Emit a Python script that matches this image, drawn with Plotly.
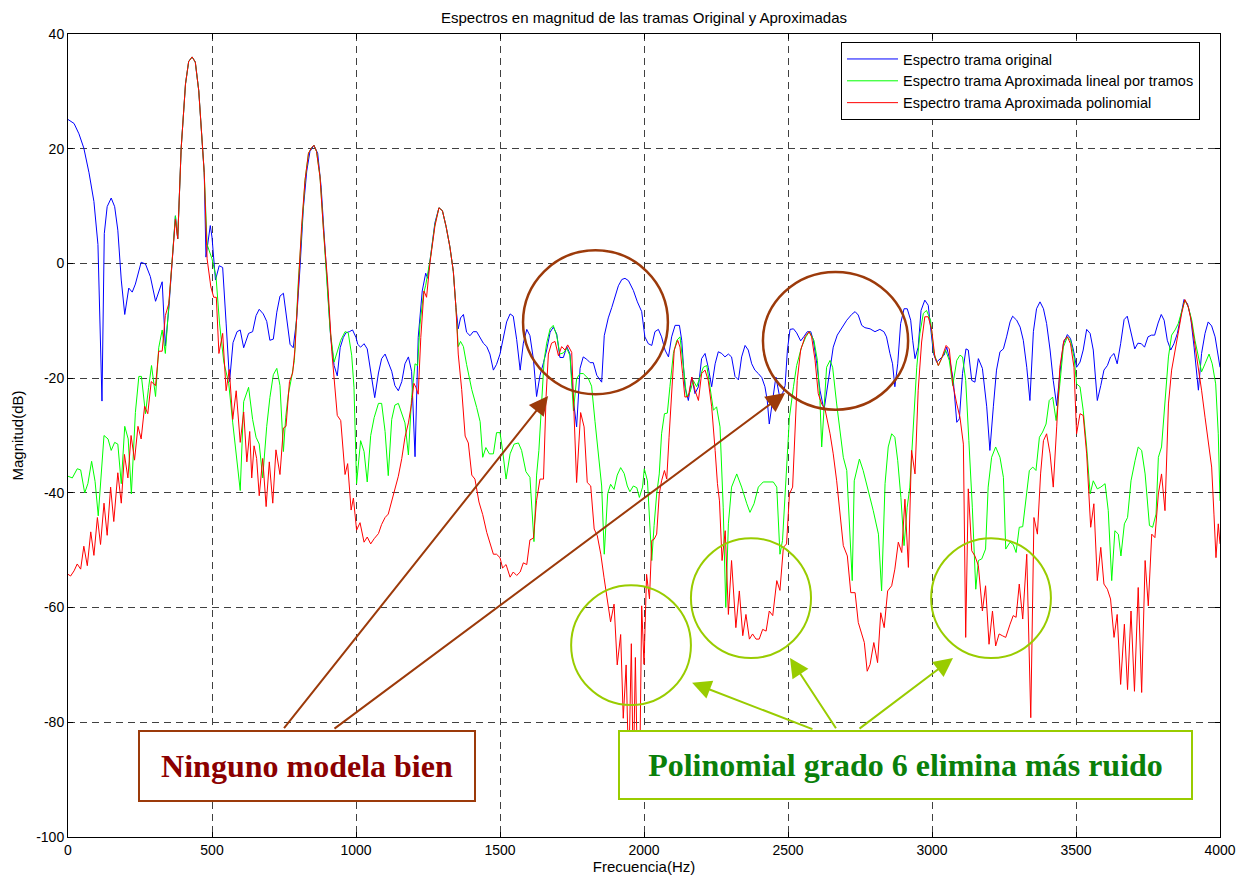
import plotly.graph_objects as go

# ---------------- data ----------------
freq_orig = [0, 21, 38, 55, 73, 90, 104, 118, 126, 136, 150, 162, 173, 185, 197, 211, 223, 234, 254, 269, 286, 304, 327, 338, 350, 361, 373, 381, 393, 408, 419, 431, 442, 454, 465, 473, 479, 494, 500, 512, 525, 537, 549, 561, 573, 587, 598, 610, 627, 641, 653, 664, 678, 690, 701, 713, 725, 736, 748, 759, 771, 782, 794, 806, 817, 829, 840, 854, 867, 879, 889, 901, 912, 924, 935, 945, 956, 965, 977, 988, 1000, 1006, 1016, 1028, 1039, 1051, 1065, 1078, 1089, 1101, 1112, 1124, 1135, 1147, 1159, 1170, 1182, 1193, 1205, 1216, 1230, 1242, 1249, 1260, 1274, 1288, 1300, 1313, 1326, 1338, 1347, 1355, 1363, 1373, 1384, 1396, 1407, 1419, 1431, 1442, 1454, 1465, 1477, 1488, 1500, 1512, 1523, 1535, 1546, 1558, 1570, 1581, 1593, 1604, 1616, 1627, 1639, 1651, 1662, 1674, 1685, 1697, 1708, 1720, 1732, 1743, 1755, 1766, 1778, 1789, 1801, 1813, 1824, 1836, 1853, 1862, 1876, 1888, 1899, 1911, 1923, 1934, 1946, 1963, 1977, 1992, 2003, 2015, 2027, 2038, 2050, 2061, 2073, 2085, 2096, 2108, 2123, 2131, 2142, 2154, 2166, 2177, 2189, 2200, 2212, 2223, 2235, 2247, 2258, 2270, 2281, 2293, 2304, 2316, 2328, 2339, 2351, 2362, 2374, 2385, 2397, 2409, 2420, 2428, 2435, 2447, 2458, 2470, 2481, 2490, 2498, 2507, 2519, 2530, 2544, 2556, 2567, 2579, 2588, 2600, 2611, 2625, 2637, 2646, 2657, 2671, 2686, 2704, 2721, 2733, 2744, 2756, 2767, 2785, 2802, 2819, 2833, 2842, 2854, 2863, 2871, 2881, 2891, 2903, 2914, 2926, 2933, 2941, 2952, 2962, 2975, 2987, 2995, 3005, 3016, 3028, 3042, 3051, 3062, 3074, 3086, 3095, 3106, 3118, 3126, 3138, 3149, 3161, 3175, 3190, 3201, 3213, 3224, 3236, 3248, 3259, 3271, 3280, 3294, 3306, 3317, 3329, 3340, 3352, 3363, 3375, 3387, 3398, 3410, 3421, 3433, 3444, 3456, 3470, 3481, 3491, 3502, 3514, 3525, 3537, 3549, 3560, 3574, 3586, 3597, 3609, 3620, 3632, 3643, 3655, 3667, 3678, 3690, 3704, 3715, 3727, 3738, 3750, 3762, 3773, 3785, 3796, 3806, 3817, 3829, 3840, 3852, 3863, 3875, 3887, 3898, 3910, 3925, 3936, 3948, 3959, 3971, 3983, 3994, 4000]
mag_orig = [25.1, 24.4, 22.6, 20.1, 15.8, 10.8, 3.3, -24, 5.2, 9.9, 11.4, 9.9, 5.8, -2.9, -8.9, -4.3, -5.0, -3.6, 0.2, -0.1, -2.3, -6.6, -3.2, -14.4, -7.9, 0.8, 8.3, 4.3, 20.1, 31.3, 35.2, 36.0, 35.1, 30.1, 22.6, 15.8, 1.1, 6.6, 4.6, -2.9, -0.4, -0.7, -10.4, -20.6, -13.8, -11.9, -11.6, -14.7, -12.2, -11.9, -9.1, -8, -8.8, -10.1, -13.4, -13.2, -8.5, -5.7, -5.2, -9.1, -14.1, -14.7, -9.7, -0.4, 9.5, 16.1, 19.5, 20.6, 19.2, 13.3, 4.6, -4.1, -12.9, -17.8, -19.6, -14.7, -12.9, -12.1, -11.9, -11.6, -12.9, -14.1, -14.6, -14, -14.9, -19.1, -23.4, -19.1, -16.6, -15.8, -17.2, -18.8, -21.3, -22.2, -20.6, -17.5, -16.3, -18.8, -33.7, -12.9, -4.8, -1.7, -2.6, 2.1, 7.1, 9.7, 9.2, 6.4, 2.9, -1.4, -7.7, -11.4, -9.5, -8.9, -12, -12.6, -11.9, -11.9, -13, -13.9, -14.5, -15.8, -18.6, -17.6, -15.8, -12.6, -10.2, -8.8, -9.2, -13.3, -18.6, -13.9, -11.5, -12.6, -16.7, -23.2, -19.5, -17.3, -15.1, -12, -11.1, -12.3, -16.4, -16.4, -14.5, -15.8, -23.9, -28.5, -18.3, -16.3, -16.7, -17.3, -17.3, -19.5, -20.7, -12.6, -9.5, -7.7, -5.8, -3.9, -2.8, -2.6, -3, -4.7, -6.7, -8.4, -12.8, -14, -14.3, -11.9, -11.5, -12.8, -15.1, -16.3, -12.8, -10.8, -10.8, -13.4, -21.5, -23.9, -19.8, -22.7, -21.5, -16.6, -15.7, -18.1, -21.5, -17.5, -15.4, -15.7, -16.3, -15.8, -16.3, -19.7, -20.3, -16.3, -14.3, -15.1, -17.5, -18.6, -19.2, -19.9, -21.5, -23.9, -28, -23.9, -19.8, -23, -22.7, -21.3, -15.1, -11.5, -11.4, -12.1, -13.5, -12.7, -11.9, -11.9, -13.4, -17.5, -22.1, -25.6, -21.5, -18.1, -14.6, -12.5, -11.2, -9.9, -8.9, -8.4, -9, -10.8, -11.2, -11.4, -11.9, -11.5, -11.9, -12.8, -15.7, -17.5, -21.5, -17.5, -10.5, -7.9, -7.9, -9.9, -13.4, -16.6, -14.6, -8.2, -6.4, -7.3, -11.1, -15.7, -17.2, -16.6, -16, -14.6, -16.9, -20.4, -27.7, -27.1, -19.2, -14.9, -15.1, -20.4, -20.7, -16.6, -18.3, -25, -32.6, -25, -18.6, -15.4, -14.9, -12.8, -10.2, -9.2, -9.9, -11.1, -13.4, -18.1, -23.9, -11.9, -7.9, -6.7, -7.9, -10.5, -15.1, -20.4, -24.8, -19.2, -14, -12.4, -13.1, -15.1, -18.1, -17.2, -15.1, -11.5, -12.2, -15.1, -23.9, -21.3, -18.6, -17.8, -16.3, -15.7, -17.5, -14, -9.8, -9.2, -11.6, -14.9, -13.9, -14, -14.6, -12.8, -12.5, -12.5, -10.4, -8.9, -9.9, -13.4, -15.1, -14, -12.2, -9.3, -6.3, -7, -9.3, -14.6, -22.1, -15.7, -12.2, -10.2, -10.9, -12.8, -16, -18.1]

freq_lin = [0, 15, 32, 44, 58, 69, 82, 94, 105, 125, 139, 150, 162, 173, 185, 197, 209, 220, 234, 246, 255, 269, 280, 290, 304, 315, 327, 338, 350, 361, 373, 381, 393, 408, 419, 431, 442, 454, 465, 473, 483, 500, 514, 526, 541, 558, 572, 598, 610, 627, 641, 653, 664, 676, 690, 701, 713, 725, 736, 748, 756, 765, 777, 786, 800, 811, 823, 835, 846, 854, 863, 875, 887, 898, 910, 924, 935, 947, 962, 973, 985, 993, 1002, 1016, 1028, 1039, 1051, 1063, 1078, 1089, 1101, 1112, 1124, 1135, 1147, 1159, 1170, 1182, 1193, 1205, 1214, 1222, 1234, 1242, 1257, 1274, 1288, 1300, 1313, 1326, 1338, 1347, 1355, 1363, 1373, 1384, 1402, 1419, 1431, 1440, 1451, 1463, 1477, 1488, 1500, 1509, 1521, 1535, 1549, 1564, 1575, 1590, 1604, 1618, 1627, 1635, 1645, 1653, 1662, 1674, 1685, 1697, 1708, 1720, 1732, 1743, 1755, 1766, 1778, 1789, 1807, 1818, 1830, 1841, 1853, 1862, 1874, 1884, 1896, 1907, 1919, 1931, 1942, 1951, 1963, 1975, 1984, 1995, 2001, 2012, 2019, 2027, 2035, 2044, 2053, 2061, 2071, 2081, 2090, 2102, 2114, 2125, 2137, 2148, 2160, 2171, 2183, 2194, 2206, 2218, 2229, 2241, 2252, 2264, 2275, 2284, 2293, 2304, 2322, 2339, 2357, 2368, 2382, 2397, 2414, 2432, 2449, 2461, 2472, 2481, 2493, 2505, 2519, 2530, 2547, 2562, 2574, 2590, 2602, 2611, 2617, 2625, 2634, 2646, 2655, 2669, 2680, 2692, 2704, 2715, 2723, 2730, 2748, 2761, 2779, 2796, 2814, 2825, 2837, 2848, 2860, 2871, 2881, 2892, 2903, 2914, 2923, 2935, 2947, 2958, 2970, 2981, 2995, 3007, 3022, 3033, 3047, 3060, 3072, 3086, 3097, 3106, 3117, 3128, 3140, 3152, 3161, 3173, 3186, 3195, 3207, 3221, 3236, 3248, 3256, 3271, 3282, 3292, 3303, 3315, 3326, 3338, 3350, 3361, 3373, 3384, 3396, 3407, 3419, 3431, 3444, 3456, 3470, 3481, 3493, 3502, 3514, 3525, 3537, 3549, 3560, 3574, 3586, 3601, 3612, 3624, 3635, 3647, 3656, 3668, 3679, 3691, 3705, 3716, 3728, 3740, 3755, 3766, 3778, 3786, 3797, 3809, 3821, 3832, 3844, 3855, 3867, 3878, 3890, 3902, 3913, 3925, 3936, 3948, 3962, 3973, 3985, 3994, 4000]
mag_lin = [-37.1, -37.4, -35.8, -36, -40, -38.4, -34.5, -38, -44, -30, -30.6, -32.6, -31.2, -31.5, -38.4, -28.4, -30.6, -40.2, -26, -19.7, -19.7, -26.2, -21.6, -17.8, -23.2, -14.7, -11.6, -15.7, -7.3, 0.8, 8.3, 4.3, 20.1, 31.3, 35.2, 36.0, 35.1, 30.1, 22.6, 15.8, 3.3, 0.8, -2.3, -10.4, -17.2, -20.9, -27.8, -39.6, -24.1, -21.6, -27.2, -30.3, -31.5, -37.4, -28.4, -23.4, -19.4, -18.3, -21.3, -32.8, -26.8, -22.8, -19.7, -16.9, -2.9, 6.4, 14.5, 19.2, 20.2, 20.6, 19.5, 15.1, 5.8, -2.3, -11.6, -17.2, -15.3, -13.4, -11.9, -12.1, -16, -21.6, -38.4, -30.9, -32.8, -38.1, -30, -26.9, -24.4, -24.4, -29.3, -37, -27.2, -24.7, -24.4, -26.2, -27.8, -33.4, -23.4, -17.5, -17.8, -10.7, -5.4, -3.8, 0.5, 6.8, 9.7, 9.2, 6.4, 2.9, -1.4, -7.7, -14.5, -13.6, -14.5, -17.6, -22, -25.1, -27.6, -33.8, -32.1, -33.2, -33.2, -29.5, -29.5, -32.6, -37.6, -33.2, -31.5, -31.3, -32.6, -36.3, -37.3, -48.5, -36.9, -32.6, -23.2, -17, -13.9, -11.4, -10.8, -12.6, -15.8, -15.6, -14.8, -16.1, -25.7, -20.1, -19.2, -19.2, -20.1, -21.4, -27.6, -32.6, -38.8, -50.7, -40.1, -38.5, -39.4, -36.9, -35.6, -36.6, -38.8, -39.8, -38.8, -39.1, -40.8, -39, -35.8, -37.9, -44.3, -51.8, -45.7, -40.2, -36.7, -29.7, -26.2, -26.1, -21.5, -15.7, -13.4, -12.8, -18.1, -23.3, -22.4, -20.4, -21.5, -19.8, -18.1, -17.8, -21.5, -25.6, -25, -28.5, -42.5, -60, -45.4, -39, -36.7, -39, -41.9, -43.4, -41.9, -39, -38.1, -38.1, -38.1, -39, -50.7, -48.3, -37.9, -26.8, -21.5, -17.8, -14.6, -12.8, -11.9, -13.4, -16.9, -23.9, -32, -26.2, -18.1, -16.9, -18.1, -24.5, -28.5, -33.8, -36.1, -46.6, -55.3, -37.9, -34.1, -36.1, -39.6, -43.1, -47.2, -57.1, -38.4, -32, -29.7, -30.3, -34.4, -40.8, -49.2, -42.5, -39, -28, -18.1, -12.2, -8.7, -8.2, -9.9, -15.7, -17.8, -16.6, -15.1, -16.9, -21.3, -16.9, -16, -16.3, -20.4, -30.9, -42.5, -56.8, -51.8, -51.5, -49.8, -39, -33.8, -32, -33.8, -37.3, -49.8, -48.6, -49, -50.4, -46, -45.9, -41.4, -36.1, -35.5, -36.1, -30.3, -29.4, -28, -23.9, -23.3, -27.4, -21, -14.6, -12.8, -13.4, -16.3, -21, -21.5, -25.6, -32, -40.2, -37.9, -39.3, -39, -38.4, -43.1, -55.3, -46.6, -47.2, -51, -45.4, -44.3, -37.9, -34.4, -32, -32.6, -36.7, -45.7, -46, -43.7, -33.8, -32, -24.5, -16.3, -12.5, -11.6, -10.5, -8.2, -6.4, -7.6, -9.9, -13.4, -16.3, -18.9, -17.5, -15.8, -17.5, -21, -29.7, -41.4]

freq_poly = [0, 9, 21, 32, 44, 55, 67, 79, 90, 102, 113, 125, 136, 148, 159, 173, 185, 196, 208, 219, 231, 243, 254, 266, 277, 289, 304, 315, 327, 338, 350, 361, 373, 381, 393, 408, 419, 431, 442, 454, 465, 473, 483, 496, 506, 515, 524, 537, 549, 560, 572, 584, 598, 610, 621, 631, 638, 646, 655, 664, 676, 688, 699, 711, 722, 736, 748, 757, 769, 780, 788, 800, 811, 823, 835, 846, 854, 863, 875, 887, 901, 916, 935, 947, 962, 971, 983, 991, 1002, 1014, 1028, 1039, 1051, 1063, 1078, 1089, 1101, 1112, 1124, 1135, 1147, 1159, 1170, 1182, 1193, 1201, 1208, 1216, 1225, 1236, 1245, 1257, 1274, 1288, 1300, 1313, 1326, 1338, 1347, 1355, 1367, 1379, 1390, 1402, 1413, 1427, 1440, 1454, 1465, 1477, 1488, 1500, 1509, 1521, 1535, 1546, 1558, 1570, 1581, 1593, 1604, 1616, 1627, 1639, 1651, 1660, 1668, 1679, 1691, 1703, 1714, 1726, 1735, 1749, 1766, 1780, 1792, 1803, 1815, 1827, 1838, 1850, 1861, 1873, 1884, 1896, 1907, 1919, 1928, 1938, 1947, 1956, 1963, 1970, 1977, 1986, 1992, 2000, 2009, 2019, 2027, 2035, 2044, 2053, 2061, 2071, 2079, 2087, 2096, 2105, 2117, 2125, 2134, 2142, 2154, 2166, 2177, 2189, 2200, 2212, 2223, 2235, 2247, 2255, 2262, 2271, 2282, 2293, 2304, 2319, 2331, 2343, 2354, 2366, 2377, 2389, 2400, 2412, 2424, 2435, 2447, 2461, 2472, 2484, 2495, 2505, 2516, 2524, 2532, 2544, 2559, 2573, 2582, 2594, 2605, 2617, 2628, 2646, 2657, 2669, 2680, 2692, 2706, 2718, 2733, 2744, 2756, 2765, 2775, 2785, 2798, 2811, 2822, 2834, 2846, 2860, 2871, 2883, 2895, 2906, 2918, 2929, 2941, 2952, 2964, 2975, 2987, 2999, 3010, 3022, 3033, 3049, 3060, 3072, 3086, 3097, 3109, 3117, 3126, 3138, 3149, 3161, 3175, 3186, 3198, 3210, 3221, 3233, 3244, 3256, 3271, 3282, 3292, 3303, 3315, 3329, 3343, 3354, 3366, 3377, 3387, 3398, 3410, 3421, 3433, 3444, 3458, 3470, 3481, 3493, 3502, 3514, 3525, 3537, 3551, 3562, 3574, 3586, 3597, 3609, 3620, 3632, 3643, 3655, 3668, 3679, 3691, 3703, 3716, 3728, 3740, 3751, 3763, 3774, 3786, 3797, 3809, 3821, 3832, 3844, 3855, 3867, 3878, 3890, 3902, 3913, 3925, 3936, 3948, 3959, 3971, 3979, 3986, 3994, 4000]
mag_poly = [-54.2, -54.5, -53.6, -52.4, -53.3, -49.3, -52.7, -46.8, -50.9, -44.3, -49, -41.8, -47.4, -39, -45, -36.5, -41.8, -33.3, -37.4, -30, -34.3, -28.4, -30.6, -24.9, -26.2, -20.6, -21.3, -15.3, -15.3, -9.1, -7.0, 0.8, 7.7, 4.3, 20.1, 31.3, 35.2, 36.0, 35.1, 30.1, 22.6, 15.8, 0.8, -4.1, -5.9, -5.9, -15.7, -12.2, -22.2, -18.5, -27.2, -22.2, -31.2, -25.9, -34.6, -29.3, -37.4, -31.8, -34, -40.5, -34, -42.4, -34.6, -41.8, -32.5, -36.8, -28.7, -28.4, -20.6, -19.1, -15, -2.9, 6.4, 14.5, 19.2, 20.2, 20.6, 19.5, 15.1, 5.8, -2.9, -15.3, -26.5, -27.4, -36.8, -34.9, -43, -40.9, -46.5, -45.2, -48.6, -47.7, -48.9, -48, -47.1, -45.5, -44.3, -43.7, -41.5, -39.6, -37.1, -34, -30.3, -27.8, -24.4, -20.9, -21.6, -22.8, -12.9, -4.8, -5.9, 0.2, 6.5, 9.7, 9.2, 6.4, 2.9, -1.4, -7.7, -15.8, -22, -30.1, -31.3, -36.9, -37.6, -41.6, -43.8, -46.9, -48.8, -50.7, -50.7, -51.3, -53.1, -52.5, -54.7, -53.8, -54.4, -53.8, -52.2, -52.5, -48.2, -47.9, -41.3, -37.6, -37.6, -23.2, -15.8, -13.9, -13.6, -16.1, -14.5, -15.1, -14.2, -15.5, -38.2, -26, -28.5, -38.2, -38.8, -46.3, -47.5, -50.7, -54.7, -58.8, -62.5, -59.4, -70, -64.7, -79.3, -70, -89, -66.3, -90, -68.7, -88, -85, -59.7, -69.9, -54.2, -58.5, -48.3, -48.1, -47.2, -40.2, -37.9, -36.1, -37.6, -30.3, -22.1, -15.1, -13.4, -14.6, -19.2, -23.3, -23.2, -19.8, -22.1, -23.9, -19.2, -18.6, -20.4, -25, -32.6, -38.4, -41.4, -51.8, -46.6, -61.2, -51.8, -63.5, -57.1, -64.9, -61.2, -65.5, -64.6, -65.5, -65.5, -63.8, -64.1, -60.6, -61.4, -55.3, -57, -49.5, -48.9, -40.2, -39, -30.9, -20.4, -15.1, -12.8, -11.9, -12.8, -16.9, -22.7, -24.5, -25.3, -29.7, -33.2, -37.9, -43.7, -49.2, -51, -57.4, -57.4, -62.6, -64.6, -66.1, -71.1, -69.9, -66.1, -69.6, -60.9, -63.5, -57.1, -56.2, -53.3, -48.6, -50.4, -41.1, -53, -32.6, -36.7, -22.1, -13.7, -9.3, -9.3, -11.6, -16.3, -17.8, -16.6, -14.3, -14.9, -21, -24.5, -26.8, -31.5, -65.2, -39.3, -50.1, -51, -52.7, -60.6, -56.2, -66.4, -60.6, -66.7, -64.6, -64.9, -65.2, -62.9, -61.4, -61.7, -55.9, -62, -50.7, -79.2, -44.3, -47.2, -36.7, -30.9, -29.7, -33.2, -39, -28.5, -18.1, -13.4, -12.8, -14, -18.1, -29.7, -26.2, -26.5, -33.2, -46, -41.9, -55.3, -49.5, -55.9, -56.8, -58.5, -65.2, -61.2, -73.4, -62.9, -74.3, -60.6, -74.6, -56.5, -74.8, -51.8, -59.7, -47.2, -47.8, -40.2, -36.7, -43.1, -24.5, -18.6, -15.1, -11.6, -8.7, -6.3, -7.6, -10.5, -14, -18.1, -22.1, -26.8, -30.9, -35.5, -43.7, -51.3, -45.4, -48.9]

series_names = ["Espectro trama original",
                "Espectro trama Aproximada lineal por tramos",
                "Espectro trama Aproximada polinomial"]
x_ticks = [0, 500, 1000, 1500, 2000, 2500, 3000, 3500, 4000]
y_ticks = [-100, -80, -60, -40, -20, 0, 20, 40]

# ---------------- figure ----------------
fig = go.Figure()
fig.add_trace(go.Scatter(x=freq_orig, y=mag_orig, mode="lines", name=series_names[0],
                         line=dict(color="#0000FF", width=1)))
fig.add_trace(go.Scatter(x=freq_lin, y=mag_lin, mode="lines", name=series_names[1],
                         line=dict(color="#00FF00", width=1)))
fig.add_trace(go.Scatter(x=freq_poly, y=mag_poly, mode="lines", name=series_names[2],
                         line=dict(color="#FF0000", width=1)))

BROWN = "#9C3A0A"
LIME = "#99CC00"
SANS = "Liberation Sans, Arial, sans-serif"
tick_font = dict(family=SANS, size=14, color="black")
label_font = dict(family=SANS, size=15, color="black")

# ellipses
ellipses = [
    (1580, 2083, 2.3, -22.8, BROWN, 2.5),
    (2413, 2917, -1.5, -25.5, BROWN, 2.5),
    (1747, 2163, -56.1, -77.0, LIME, 2),
    (2163, 2580, -47.9, -68.8, LIME, 2),
    (2997, 3413, -47.9, -68.8, LIME, 2),
]
for x0, x1, y0, y1, c, w in ellipses:
    fig.add_shape(type="circle", xref="x", yref="y", x0=x0, x1=x1, y0=y1, y1=y0,
                  line=dict(color=c, width=w))

annotations = []
# arrows (tail -> head)
arrows = [
    (746, -81.3, 1667, -23.1, BROWN),
    (920, -81.3, 2490, -22.6, BROWN),
    (2590, -81.3, 2167, -73.1, LIME),
    (2670, -81.3, 2507, -68.8, LIME),
    (2743, -81.3, 3073, -68.8, LIME),
]
for ax_, ay_, x_, y_, c in arrows:
    annotations.append(dict(x=x_, y=y_, ax=ax_, ay=ay_, xref="x", yref="y", axref="x", ayref="y",
                            showarrow=True, arrowhead=2, arrowsize=1.9, arrowwidth=2,
                            arrowcolor=c, text=""))
# text boxes
annotations.append(dict(x=(307 - 68) / 1152, y=1 - (766 - 34) / 803, xref="paper", yref="paper",
                        text="<b>Ninguno modela bien</b>", showarrow=False,
                        font=dict(family="Liberation Serif, Times New Roman, serif", size=32, color="#8B0000"),
                        bgcolor="white", bordercolor=BROWN, borderwidth=2, borderpad=0,
                        width=334, height=68, xanchor="center", yanchor="middle"))
annotations.append(dict(x=(905.5 - 68) / 1152, y=1 - (765 - 34) / 803, xref="paper", yref="paper",
                        text="<b>Polinomial grado 6 elimina más ruido</b>", showarrow=False,
                        font=dict(family="Liberation Serif, Times New Roman, serif", size=32, color="#0A800A"),
                        bgcolor="white", bordercolor=LIME, borderwidth=2, borderpad=0,
                        width=571, height=66, xanchor="center", yanchor="middle"))

fig.update_layout(
    width=1249, height=876,
    margin=dict(l=68, r=29, t=34, b=39),
    paper_bgcolor="white", plot_bgcolor="white",
    title=dict(text="Espectros en magnitud de las tramas Original y Aproximadas",
               x=(68 + 1220) / 2 / 1249, xanchor="center", y=1 - 18 / 876, yanchor="middle",
               font=label_font),
    showlegend=True,
    legend=dict(x=(841 - 68) / 1152, y=0.99, xanchor="left", yanchor="top",
                bgcolor="white", bordercolor="black", borderwidth=1,
                font=dict(family=SANS, size=14.5, color="black"),
                tracegroupgap=0, itemwidth=51),
    annotations=annotations,
)
fig.update_xaxes(range=[0, 4000], tickvals=x_ticks, ticktext=[str(v) for v in x_ticks],
                 showline=True, linecolor="black", linewidth=1, mirror="ticks",
                 ticks="inside", ticklen=5, tickcolor="black",
                 showgrid=True, gridcolor="#404040", gridwidth=1, griddash="7px,5px",
                 zeroline=False, tickfont=tick_font, automargin=False,
                 title=dict(text="Frecuencia(Hz)", font=label_font, standoff=1))
fig.update_yaxes(range=[-100, 40], tickvals=y_ticks, ticktext=[str(v) for v in y_ticks],
                 showline=True, linecolor="black", linewidth=1, mirror="ticks",
                 ticks="inside", ticklen=5, tickcolor="black",
                 showgrid=True, gridcolor="#404040", gridwidth=1, griddash="7px,5px",
                 zeroline=False, tickfont=tick_font, automargin=False,
                 title=dict(text="Magnitud(dB)", font=label_font, standoff=8))

fig.write_html("out.html", config={"displayModeBar": False},
               post_script="document.body.style.margin='0px';")
